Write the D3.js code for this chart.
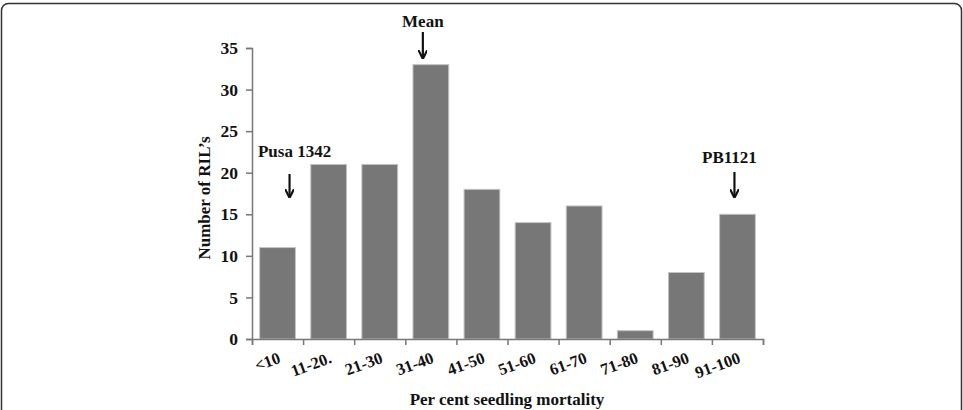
<!DOCTYPE html>
<html>
<head>
<meta charset="utf-8">
<script src="https://cdn.jsdelivr.net/npm/d3@7"></script>
<style>
  body { margin: 0; background: #fff; }
  text { font-family: "Liberation Serif", "Times New Roman", serif; font-weight: bold; fill: #111; }
</style>
</head>
<body>
<svg id="chart" width="963" height="410"></svg>
<script>
var categories = ["<10", "11-20.", "21-30", "31-40", "41-50", "51-60", "61-70", "71-80", "81-90", "91-100"];
var counts = [11, 21, 21, 33, 18, 14, 16, 1, 8, 15];
var yTicks = [0, 5, 10, 15, 20, 25, 30, 35];
// annotations: label, category, x nudge from band centre, text baseline, arrow top/bottom
var notes = [
  { label: "Pusa 1342", cat: "<10", dx: 12, tx: 17, ty: 157, y1: 174, y2: 197 },
  { label: "Mean", cat: "31-40", dx: -8, tx: -8, ty: 27, y1: 32, y2: 58 },
  { label: "PB1121", cat: "91-100", dx: -3, tx: -8, ty: 163, y1: 172, y2: 197 }
];

var svg = d3.select("#chart");
var mLeft = 252, mRight = 763, mTop = 48, mBottom = 339;

// frame
svg.append("rect")
  .attr("x", 1.5).attr("y", 3.5)
  .attr("width", 960).attr("height", 430)
  .attr("rx", 7)
  .attr("fill", "none")
  .attr("stroke", "#333")
  .attr("stroke-width", 1.5);

var x = d3.scaleBand().domain(categories).range([mLeft, mRight]).paddingInner(0.3).paddingOuter(0.15);
var xEdges = d3.scaleLinear().domain([0, categories.length]).range([mLeft, mRight]);
var y = d3.scaleLinear().domain([0, 35]).range([mBottom, mTop]);

// bars
svg.append("g").selectAll("rect")
  .data(counts)
  .enter().append("rect")
  .attr("x", function (d, i) { return x(categories[i]); })
  .attr("y", function (d) { return y(d); })
  .attr("width", x.bandwidth())
  .attr("height", function (d) { return y(0) - y(d); })
  .attr("fill", "#777")
  .attr("stroke", "#c4c4c4")
  .attr("stroke-width", 1);

// y axis
var gy = svg.append("g")
  .attr("transform", "translate(" + mLeft + ",0)")
  .call(d3.axisLeft(y).tickValues(yTicks).tickSize(6).tickPadding(8));
gy.selectAll("text").style("font-size", "17.5px").attr("font-family", null).attr("fill", null);

// x axis, ticks at band edges
var gx = svg.append("g")
  .attr("transform", "translate(0," + mBottom + ")")
  .call(d3.axisBottom(xEdges).tickValues(d3.range(categories.length + 1)).tickFormat("").tickSize(6));

svg.selectAll(".domain, .tick line").attr("stroke", "#777").attr("stroke-width", 1.5);

// rotated category labels
svg.append("g").selectAll("text")
  .data(categories)
  .enter().append("text")
  .attr("transform", function (d) {
    return "translate(" + (x(d) + x.bandwidth() / 2 + 2) + "," + (mBottom + 18) + ") rotate(-20)";
  })
  .attr("text-anchor", "end")
  .attr("dy", "0.35em")
  .style("font-size", "16.5px")
  .text(function (d) { return d; });

// axis titles
svg.append("text")
  .attr("x", 507).attr("y", 405)
  .attr("text-anchor", "middle")
  .style("font-size", "17px")
  .text("Per cent seedling mortality");

svg.append("text")
  .attr("transform", "translate(210,198) rotate(-90)")
  .attr("text-anchor", "middle")
  .style("font-size", "17px")
  .text("Number of RIL\u2019s");

// arrow marker
svg.append("defs").append("marker")
  .attr("id", "head")
  .attr("viewBox", "0 0 10 10")
  .attr("refX", 9).attr("refY", 5)
  .attr("markerWidth", 9).attr("markerHeight", 9)
  .attr("markerUnits", "userSpaceOnUse")
  .attr("orient", "auto")
  .append("path")
  .attr("d", "M0,0 L10,5 L0,10")
  .attr("fill", "none")
  .attr("stroke", "#111")
  .attr("stroke-width", 2.4);

var ann = svg.append("g").selectAll("g").data(notes).enter().append("g");
ann.append("text")
  .attr("x", function (d) { return x(d.cat) + x.bandwidth() / 2 + d.tx; })
  .attr("y", function (d) { return d.ty; })
  .attr("text-anchor", "middle")
  .style("font-size", "17px")
  .text(function (d) { return d.label; });
ann.append("line")
  .attr("x1", function (d) { return x(d.cat) + x.bandwidth() / 2 + d.dx; })
  .attr("x2", function (d) { return x(d.cat) + x.bandwidth() / 2 + d.dx; })
  .attr("y1", function (d) { return d.y1; })
  .attr("y2", function (d) { return d.y2; })
  .attr("stroke", "#111")
  .attr("stroke-width", 2.2)
  .attr("marker-end", "url(#head)");
</script>
</body>
</html>
